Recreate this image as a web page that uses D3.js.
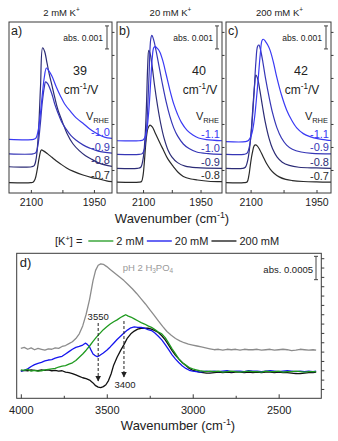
<!DOCTYPE html>
<html><head><meta charset="utf-8">
<script src="https://cdn.jsdelivr.net/npm/d3@7/dist/d3.min.js"></script>
<style>
html,body{margin:0;padding:0;background:#fff;}
svg{display:block;}
text{font-family:"Liberation Sans",Arial,Helvetica,sans-serif;}
</style></head>
<body>
<svg id="chart" width="338" height="441"></svg>
<script>
// ---------------- data (absorbance in units of 0.001 = mAbs) ----------------
const concentrations = ["2 mM", "20 mM", "200 mM"];
const panelLetters = ["a)", "b)", "c)"];
const starkTuning = [39, 40, 42];
const topTicks = [2100, 2025, 1950];

const potentialsA = ["-1.0", "-0.9", "-0.8", "-0.7"];
const potentialsB = ["-1.1", "-1.0", "-0.9", "-0.8"];
const potentialsC = ["-1.1", "-0.9", "-0.8", "-0.7"];

const offsetsA = [2.33, 1.70, 1.14, 0.45];
const offsetsB = [2.27, 1.68, 1.07, 0.47];
const offsetsC = [2.23, 1.68, 1.07, 0.45];

const spectraA = [
  [[2152,0],[2094,0],[2088,0.05],[2083,0.35],[2078,1.0],[2073,1.9],[2068,2.7],[2063,3.1],[2058,3.0],[2050,2.75],[2040,2.3],[2030,1.9],[2020,1.55],[2005,1.2],[1990,0.9],[1976,0.7],[1960,0.45],[1940,0.22],[1925,0.1],[1907,0.04]],
  [[2152,0],[2095,0],[2088,0.05],[2083,0.4],[2078,1.2],[2073,2.2],[2068,2.9],[2065,3.13],[2060,3.05],[2050,2.6],[2043,2.15],[2036,1.8],[2027,1.4],[2017,1.1],[2005,0.8],[1993,0.6],[1975,0.38],[1960,0.25],[1940,0.12],[1907,0.03]],
  [[2152,0],[2098,0],[2092,0.05],[2087,0.4],[2082,1.5],[2077,3.5],[2072,5.17],[2067,5.0],[2062,4.55],[2056,4.0],[2050,3.55],[2043,3.0],[2036,2.5],[2025,1.95],[2014,1.45],[2000,1.0],[1985,0.7],[1970,0.48],[1955,0.32],[1936,0.15],[1907,0.02]],
  [[2152,0],[2100,0],[2095,0.02],[2090,0.15],[2085,0.55],[2080,1.1],[2075,1.42],[2070,1.38],[2060,1.25],[2050,1.1],[2040,0.95],[2030,0.82],[2015,0.64],[2000,0.5],[1976,0.33],[1955,0.22],[1936,0.15],[1920,0.08],[1907,0.04]]
];
const spectraB = [
  [[2168,0],[2110,0],[2100,0.03],[2095,0.15],[2090,0.5],[2085,1.3],[2080,2.6],[2076,3.6],[2072,4.05],[2068,4.09],[2062,4.0],[2056,3.85],[2048,3.45],[2040,2.9],[2030,2.2],[2020,1.6],[2010,1.15],[2000,0.8],[1985,0.45],[1970,0.25],[1955,0.12],[1935,0.05],[1894,0]],
  [[2168,0],[2110,0],[2102,0.03],[2097,0.2],[2092,0.8],[2088,2.0],[2084,3.6],[2080,5.0],[2077,5.17],[2072,4.95],[2066,4.5],[2058,3.8],[2050,3.1],[2040,2.3],[2030,1.65],[2020,1.15],[2010,0.8],[1995,0.45],[1980,0.25],[1960,0.1],[1930,0.03],[1894,0]],
  [[2168,0],[2115,0],[2106,0.05],[2100,0.4],[2095,1.3],[2091,2.8],[2088,4.4],[2085,5.13],[2081,4.95],[2076,4.4],[2070,3.6],[2062,2.7],[2054,1.95],[2045,1.3],[2035,0.8],[2025,0.5],[2010,0.25],[1990,0.1],[1960,0.03],[1894,0]],
  [[2168,0],[2110,0],[2104,0.03],[2100,0.3],[2096,1.0],[2092,1.84],[2087,2.35],[2082,2.48],[2076,2.4],[2070,2.2],[2064,1.98],[2056,1.7],[2047,1.4],[2035,1.0],[2021,0.68],[2008,0.42],[1995,0.25],[1975,0.14],[1960,0.1],[1930,0.04],[1894,0.02]]
];
const spectraC = [
  [[2156,0],[2112,0],[2105,0.05],[2098,0.3],[2092,0.9],[2087,1.8],[2082,2.9],[2078,3.8],[2074,4.4],[2071,4.45],[2066,4.35],[2061,4.2],[2056,3.99],[2048,3.45],[2041,2.85],[2030,2.05],[2018,1.38],[2007,0.95],[1995,0.6],[1980,0.35],[1965,0.22],[1945,0.12],[1927,0.07],[1917,0.05]],
  [[2156,0],[2115,0],[2108,0.05],[2102,0.4],[2097,1.3],[2092,2.7],[2088,4.0],[2084,4.7],[2081,4.75],[2077,4.5],[2072,4.0],[2066,3.3],[2058,2.5],[2050,1.8],[2040,1.15],[2030,0.72],[2018,0.4],[2005,0.22],[1985,0.1],[1960,0.04],[1917,0.02]],
  [[2156,0],[2118,0],[2112,0.05],[2106,0.4],[2100,1.3],[2095,2.6],[2091,3.6],[2088,4.05],[2084,3.9],[2079,3.4],[2073,2.7],[2066,1.95],[2058,1.3],[2050,0.85],[2040,0.5],[2028,0.27],[2012,0.13],[1990,0.05],[1950,0.02],[1917,0]],
  [[2156,0],[2115,0],[2108,0.03],[2104,0.3],[2100,0.85],[2096,1.3],[2092,1.6],[2089,1.64],[2085,1.6],[2079,1.42],[2072,1.15],[2064,0.84],[2055,0.58],[2046,0.4],[2035,0.25],[2020,0.14],[2005,0.09],[1980,0.05],[1950,0.03],[1917,0.02]]
];

// panel d: O-H stretch region
const bottomTicks = [4000, 3500, 3000, 2500];
const bottomMinorTicks = [3750, 3250, 2750];
const legendLabels = ["2 mM", "20 mM", "200 mM"];
const peakMarks = ["3550", "3400"];

const waterGray = [[4000,1.07],[3980,1.09],[3960,1.05],[3940,1.08],[3920,1.04],[3900,1.07],[3880,1.05],[3860,1.03],[3840,1.06],[3820,1.05],[3800,1.08],[3780,1.07],[3760,1.11],[3740,1.13],[3720,1.17],[3700,1.21],[3680,1.28],[3660,1.38],[3640,1.55],[3620,1.80],[3600,2.12],[3580,2.52],[3565,2.74],[3550,2.85],[3535,2.88],[3520,2.87],[3500,2.82],[3480,2.76],[3460,2.70],[3440,2.64],[3420,2.58],[3400,2.52],[3375,2.43],[3350,2.34],[3325,2.24],[3300,2.13],[3275,2.02],[3250,1.90],[3225,1.78],[3200,1.66],[3175,1.54],[3150,1.43],[3125,1.35],[3100,1.28],[3075,1.23],[3050,1.19],[3025,1.16],[3000,1.14],[2975,1.12],[2950,1.10],[2925,1.08],[2900,1.06],[2875,1.04],[2850,1.05],[2825,1.03],[2800,1.05],[2775,1.04],[2750,1.05],[2725,1.03],[2700,1.05],[2675,1.04],[2650,1.04],[2625,1.05],[2600,1.03],[2575,1.04],[2550,1.05],[2525,1.03],[2500,1.04],[2475,1.05],[2450,1.04],[2425,1.02],[2400,1.03],[2375,1.05],[2350,1.04],[2325,1.03],[2300,1.04],[2282,1.03]];
const waterGreen = [[4000,0.61],[3980,0.60],[3960,0.62],[3940,0.58],[3920,0.60],[3900,0.58],[3880,0.59],[3860,0.61],[3840,0.62],[3820,0.63],[3800,0.64],[3780,0.67],[3760,0.69],[3740,0.70],[3720,0.73],[3700,0.76],[3680,0.81],[3660,0.88],[3640,0.95],[3620,1.03],[3600,1.12],[3580,1.22],[3560,1.31],[3540,1.39],[3520,1.47],[3500,1.53],[3480,1.59],[3460,1.64],[3440,1.68],[3420,1.73],[3400,1.77],[3390,1.79],[3375,1.76],[3360,1.74],[3340,1.70],[3320,1.66],[3300,1.62],[3280,1.59],[3260,1.55],[3240,1.52],[3220,1.47],[3200,1.42],[3180,1.38],[3160,1.30],[3140,1.18],[3120,1.06],[3100,0.95],[3080,0.84],[3060,0.76],[3040,0.71],[3020,0.66],[3000,0.63],[2980,0.61],[2960,0.59],[2940,0.58],[2920,0.57],[2900,0.58],[2875,0.57],[2850,0.58],[2825,0.56],[2800,0.57],[2775,0.58],[2750,0.57],[2725,0.56],[2700,0.57],[2675,0.58],[2650,0.57],[2625,0.57],[2600,0.56],[2575,0.58],[2550,0.57],[2525,0.57],[2500,0.58],[2475,0.56],[2450,0.57],[2425,0.57],[2400,0.58],[2375,0.57],[2350,0.56],[2325,0.57],[2300,0.57],[2282,0.57]];
const waterBlue = [[4000,0.58],[3980,0.60],[3960,0.63],[3940,0.68],[3920,0.72],[3900,0.75],[3880,0.77],[3860,0.80],[3840,0.82],[3820,0.83],[3800,0.86],[3780,0.88],[3760,0.90],[3740,0.95],[3720,1.00],[3700,1.05],[3680,1.09],[3660,1.11],[3640,1.14],[3625,1.18],[3615,1.16],[3600,1.10],[3590,1.02],[3580,0.95],[3570,0.92],[3555,0.89],[3540,0.92],[3520,0.97],[3500,1.03],[3480,1.10],[3460,1.18],[3440,1.26],[3420,1.33],[3400,1.40],[3380,1.46],[3360,1.51],[3340,1.53],[3320,1.52],[3300,1.52],[3280,1.50],[3260,1.47],[3240,1.45],[3220,1.40],[3200,1.33],[3180,1.25],[3160,1.15],[3140,1.04],[3120,0.93],[3100,0.84],[3080,0.76],[3060,0.69],[3040,0.64],[3020,0.60],[3000,0.58],[2980,0.57],[2960,0.56],[2940,0.57],[2920,0.58],[2900,0.57],[2875,0.58],[2850,0.57],[2825,0.58],[2800,0.59],[2775,0.57],[2750,0.58],[2725,0.58],[2700,0.57],[2675,0.59],[2650,0.58],[2625,0.58],[2600,0.57],[2575,0.58],[2550,0.59],[2525,0.58],[2500,0.57],[2475,0.58],[2450,0.59],[2425,0.58],[2400,0.57],[2375,0.58],[2350,0.57],[2325,0.58],[2300,0.57],[2282,0.58]];
const waterBlack = [[4000,0.58],[3980,0.60],[3960,0.59],[3940,0.61],[3920,0.60],[3900,0.59],[3880,0.61],[3860,0.60],[3840,0.61],[3820,0.59],[3800,0.60],[3780,0.58],[3760,0.59],[3740,0.56],[3720,0.55],[3700,0.53],[3680,0.50],[3660,0.47],[3640,0.44],[3620,0.42],[3600,0.39],[3580,0.33],[3565,0.27],[3550,0.24],[3535,0.23],[3520,0.25],[3505,0.29],[3490,0.38],[3475,0.52],[3460,0.71],[3440,0.88],[3420,1.02],[3400,1.15],[3380,1.29],[3360,1.38],[3340,1.44],[3320,1.48],[3300,1.50],[3280,1.50],[3260,1.50],[3240,1.48],[3220,1.45],[3200,1.41],[3180,1.34],[3160,1.25],[3140,1.14],[3120,1.02],[3100,0.92],[3080,0.84],[3060,0.76],[3040,0.70],[3020,0.64],[3000,0.60],[2980,0.58],[2960,0.56],[2940,0.55],[2920,0.54],[2900,0.54],[2875,0.55],[2850,0.56],[2825,0.55],[2800,0.56],[2775,0.55],[2750,0.56],[2725,0.56],[2700,0.55],[2675,0.56],[2650,0.55],[2625,0.56],[2600,0.55],[2575,0.56],[2550,0.56],[2525,0.55],[2500,0.56],[2475,0.55],[2450,0.55],[2425,0.54],[2400,0.53],[2375,0.53],[2350,0.54],[2325,0.55],[2300,0.55],[2282,0.56]];

// ---------------- drawing ----------------
const svg = d3.select("#chart");
const TXT = "#222";
const FRAME = "#3a3a3a";

function richText(g, x, y, parts, size, anchor, color) {
  const t = g.append("text").attr("x", x).attr("y", y)
    .attr("font-size", size).attr("text-anchor", anchor || "start").attr("fill", color || TXT);
  let shift = 0;
  parts.forEach(p => {
    const ts = t.append("tspan").text(p.t);
    const target = p.sup ? -size * 0.38 : (p.sub ? size * 0.25 : 0);
    if (target - shift !== 0) ts.attr("dy", target - shift);
    shift = target;
    if (p.sup || p.sub) ts.attr("font-size", size * 0.68);
  });
  return t;
}

// ----- panels a-c -----
const topTop = 22, topBottom = 193;
const topY = d3.scaleLinear().domain([0, 7.43]).range([topBottom, topTop]);
const topColors = ["#3a3af4", "#3636b6", "#2c2c76", "#2a2a2a"];
const topLayout = [
  {x0: 9,   x1: 112, dom: [2152, 1907], numX: 80},
  {x0: 117, x1: 222, dom: [2168, 1894], numX: 199},
  {x0: 226, x1: 331, dom: [2156, 1917], numX: 301}
];
const topData = [
  {pots: potentialsA, offs: offsetsA, spec: spectraA},
  {pots: potentialsB, offs: offsetsB, spec: spectraB},
  {pots: potentialsC, offs: offsetsC, spec: spectraC}
];

topLayout.forEach((L, p) => {
  const D = topData[p];
  const x = d3.scaleLinear().domain(L.dom).range([L.x0, L.x1]);
  const cid = "clipTop" + p;
  svg.append("clipPath").attr("id", cid).append("rect")
    .attr("x", L.x0).attr("y", topTop).attr("width", L.x1 - L.x0).attr("height", topBottom - topTop);

  const gl = svg.append("g").attr("clip-path", `url(#${cid})`);
  for (let i = D.spec.length - 1; i >= 0; i--) {
    const off = D.offs[i];
    const line = d3.line().x(d => x(d[0])).y(d => topY(d[1] + off)).curve(d3.curveCatmullRom.alpha(0.5));
    gl.append("path").datum(D.spec[i]).attr("d", line)
      .attr("fill", "none").attr("stroke", topColors[i]).attr("stroke-width", 1.2);
  }

  // frame
  svg.append("rect").attr("x", L.x0).attr("y", topTop).attr("width", L.x1 - L.x0).attr("height", topBottom - topTop)
    .attr("fill", "none").attr("stroke", FRAME).attr("stroke-width", 1);

  // bottom axis
  const ax = d3.axisBottom(x).tickValues(topTicks).tickSizeInner(-3).tickSizeOuter(0).tickPadding(6)
    .tickFormat(d => d === 2025 ? "" : d3.format("d")(d));
  const ga = svg.append("g").attr("transform", `translate(0,${topBottom})`).call(ax);
  ga.select(".domain").remove();
  ga.selectAll("line").attr("stroke", FRAME);
  ga.selectAll("text").attr("font-size", 10.5).attr("fill", TXT);

  // right axis ticks
  const ar = d3.axisRight(topY).tickValues(d3.range(1, 8)).tickSize(2.5).tickFormat("");
  const gr = svg.append("g").attr("transform", `translate(${L.x1},0)`).call(ar);
  gr.select(".domain").remove();
  gr.selectAll("line").attr("stroke", FRAME);

  // title
  richText(svg, (L.x0 + L.x1) / 2 + 1, 16, [{t: concentrations[p] + " K"}, {t: "+", sup: true}], 9.5, "middle");
  // letter
  svg.append("text").attr("x", L.x0 + 2).attr("y", 35).attr("font-size", 12.5).attr("fill", TXT).text(panelLetters[p]);

  // scale bar 0.001
  const bx = L.x1 - 5, b1 = topY(7.26), b0 = topY(6.26);
  const sb = svg.append("g").attr("stroke", "#444").attr("stroke-width", 1);
  sb.append("line").attr("x1", bx).attr("x2", bx).attr("y1", b1).attr("y2", b0);
  sb.append("line").attr("x1", bx - 2).attr("x2", bx + 2).attr("y1", b1).attr("y2", b1);
  sb.append("line").attr("x1", bx - 2).attr("x2", bx + 2).attr("y1", b0).attr("y2", b0);
  svg.append("text").attr("x", bx - 4).attr("y", 41).attr("font-size", 8.5).attr("text-anchor", "end")
    .attr("fill", TXT).text("abs. 0.001");

  // tuning rate
  svg.append("text").attr("x", L.numX).attr("y", 75).attr("font-size", 12.5).attr("text-anchor", "middle")
    .attr("fill", TXT).text(starkTuning[p]);
  richText(svg, L.numX + 1, 94, [{t: "cm"}, {t: "-1", sup: true}, {t: "/V"}], 12, "middle");

  // V_RHE
  richText(svg, L.x1 - 3, 120, [{t: "V"}, {t: "RHE", sub: true}], 11, "end");
  // potential labels, placed just above the right end of each trace
  D.pots.forEach((v, i) => {
    const last = D.spec[i][D.spec[i].length - 1][1];
    svg.append("text").attr("x", L.x1 - 2).attr("y", topY(D.offs[i] + last) - 2.5)
      .attr("font-size", 11).attr("text-anchor", "end").attr("fill", topColors[i]).text(v);
  });
});

richText(svg, 172, 223, [{t: "Wavenumber (cm"}, {t: "-1", sup: true}, {t: ")"}], 13, "middle");

// ----- panel d -----
const dL = 16.7, dR = 321.3, dT = 253.3, dB = 398.3;
const xd = d3.scaleLinear().domain([4024, 2252]).range([dL, dR]);
const yd = d3.scaleLinear().domain([0, 3.105]).range([dB, dT]);
svg.append("clipPath").attr("id", "clipD").append("rect")
  .attr("x", dL).attr("y", dT).attr("width", dR - dL).attr("height", dB - dT);
const lineD = d3.line().x(d => xd(d[0])).y(d => yd(d[1]));
const gd = svg.append("g").attr("clip-path", "url(#clipD)");
const dSeries = [
  {data: waterGray, color: "#8c8c8c"},
  {data: waterBlack, color: "#111111"},
  {data: waterBlue, color: "#1515ee"},
  {data: waterGreen, color: "#1f9a1f"}
];
dSeries.forEach(s => {
  gd.append("path").datum(s.data).attr("d", lineD).attr("fill", "none")
    .attr("stroke", s.color).attr("stroke-width", 1.3).attr("stroke-linejoin", "round");
});
svg.append("rect").attr("x", dL).attr("y", dT).attr("width", dR - dL).attr("height", dB - dT)
  .attr("fill", "none").attr("stroke", FRAME).attr("stroke-width", 1);

const axd = d3.axisBottom(xd).tickValues(bottomTicks).tickSizeInner(-4).tickSizeOuter(0).tickPadding(8)
  .tickFormat(d3.format("d"));
const gad = svg.append("g").attr("transform", `translate(0,${dB})`).call(axd);
gad.select(".domain").remove();
gad.selectAll("line").attr("stroke", FRAME);
gad.selectAll("text").attr("font-size", 11).attr("fill", TXT);
const axm = d3.axisBottom(xd).tickValues(bottomMinorTicks).tickSizeInner(-2.5).tickSizeOuter(0).tickFormat("");
const gam = svg.append("g").attr("transform", `translate(0,${dB})`).call(axm);
gam.select(".domain").remove();
gam.selectAll("line").attr("stroke", FRAME);

const ard = d3.axisRight(yd).tickValues(d3.range(0.2, 3.05, 0.2)).tickSize(3).tickFormat("");
const grd = svg.append("g").attr("transform", `translate(${dR},0)`).call(ard);
grd.select(".domain").remove();
grd.selectAll("line").attr("stroke", FRAME);

richText(svg, 178, 430, [{t: "Wavenumber (cm"}, {t: "-1", sup: true}, {t: ")"}], 13, "middle");
svg.append("text").attr("x", dL + 3).attr("y", 267).attr("font-size", 13).attr("fill", TXT).text("d)");
richText(svg, 122.7, 271, [{t: "pH 2 H"}, {t: "3", sub: true}, {t: "PO"}, {t: "4", sub: true}], 9.5, "start", "#9a9a9a");

// scale bar 0.0005
{
  const bx = 316, b1 = yd(3.04), b0 = yd(2.54);
  const sb = svg.append("g").attr("stroke", "#444").attr("stroke-width", 1);
  sb.append("line").attr("x1", bx).attr("x2", bx).attr("y1", b1).attr("y2", b0);
  sb.append("line").attr("x1", bx - 2).attr("x2", bx + 2).attr("y1", b1).attr("y2", b1);
  sb.append("line").attr("x1", bx - 2).attr("x2", bx + 2).attr("y1", b0).attr("y2", b0);
  svg.append("text").attr("x", bx - 3).attr("y", 273).attr("font-size", 9.5).attr("text-anchor", "end")
    .attr("fill", TXT).text("abs. 0.0005");
}

// peak markers
const defs = svg.append("defs");
defs.append("marker").attr("id", "arr").attr("viewBox", "0 0 10 10").attr("refX", 9).attr("refY", 5)
  .attr("markerWidth", 6).attr("markerHeight", 6).attr("orient", "auto-start-reverse").attr("markerUnits", "userSpaceOnUse")
  .append("path").attr("d", "M0,0 L10,5 L0,10 Z").attr("fill", "#222");
const markLayout = [{ty: 320, a0: 323, a1: 381, labelBelow: false}, {ty: 388, a0: 321, a1: 377, labelBelow: true}];
peakMarks.forEach((m, i) => {
  const L = markLayout[i];
  const xm = xd(+m);
  svg.append("line").attr("x1", xm).attr("x2", xm).attr("y1", L.a0).attr("y2", L.a1)
    .attr("stroke", "#222").attr("stroke-width", 1).attr("stroke-dasharray", "3,2").attr("marker-end", "url(#arr)");
  svg.append("text").attr("x", xm + (L.labelBelow ? 1 : 0)).attr("y", L.ty).attr("font-size", 9.5)
    .attr("text-anchor", "middle").attr("fill", TXT).text(m);
});

// legend
{
  const ly = 245;
  let cx = 55;
  const t0 = richText(svg, cx, ly, [{t: "[K"}, {t: "+", sup: true}, {t: "] ="}], 11, "start");
  cx += t0.node().getComputedTextLength() + 6;
  const lc = ["#1f9a1f", "#1515ee", "#111111"];
  legendLabels.forEach((lab, i) => {
    svg.append("line").attr("x1", cx).attr("x2", cx + 25).attr("y1", ly - 4).attr("y2", ly - 4)
      .attr("stroke", lc[i]).attr("stroke-width", 1.3);
    cx += 28;
    const t = svg.append("text").attr("x", cx).attr("y", ly).attr("font-size", 11).attr("fill", TXT).text(lab);
    cx += t.node().getComputedTextLength() + 3;
  });
}
</script>
</body></html>
